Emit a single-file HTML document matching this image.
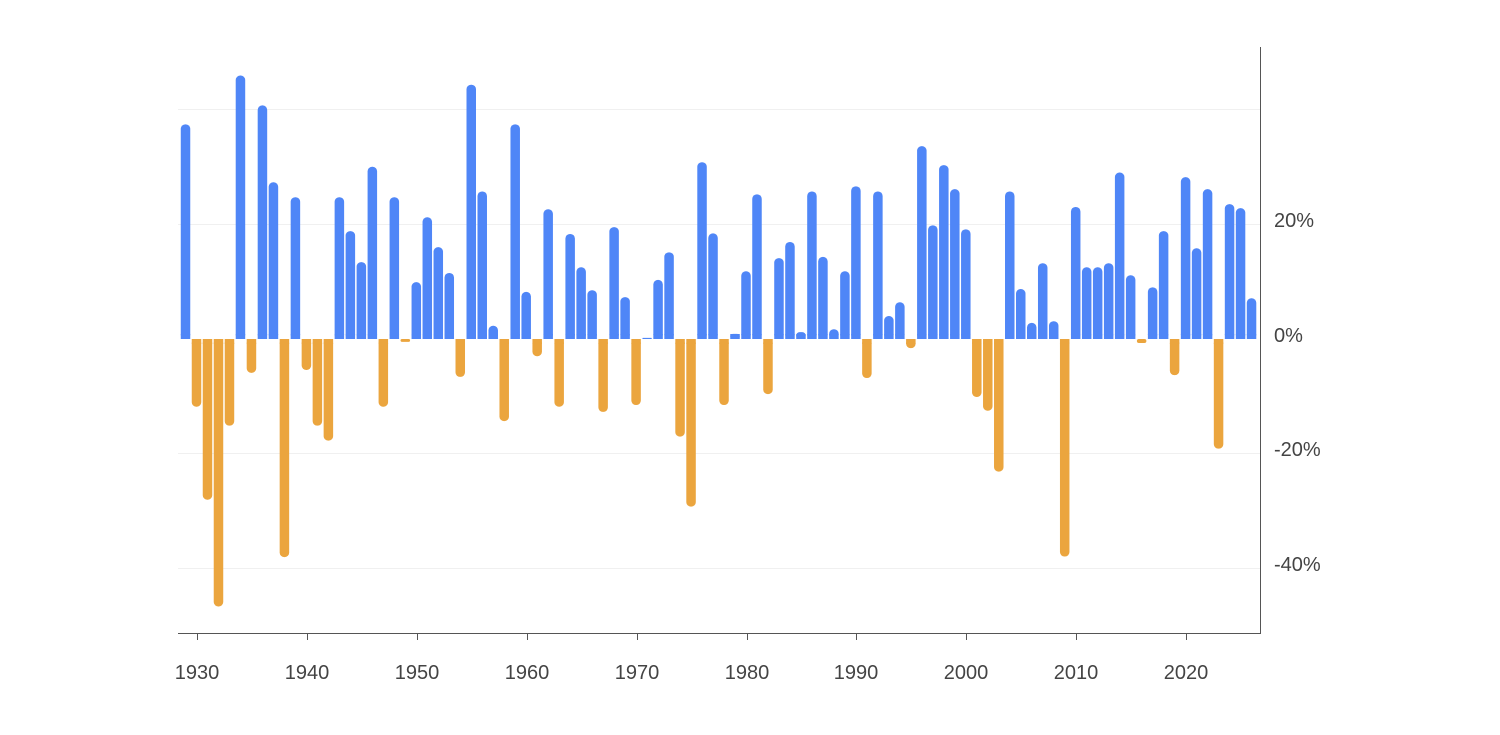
<!DOCTYPE html>
<html><head><meta charset="utf-8">
<style>
html,body{margin:0;padding:0;background:#fff;}
svg{display:block;}
text{font-family:"Liberation Sans",sans-serif;font-size:20px;fill:#444;}
</style></head>
<body>
<svg id="c" width="1500" height="735" viewBox="0 0 1500 735" xmlns="http://www.w3.org/2000/svg">
<g stroke="#f0f0f0" stroke-width="1">
<line x1="178" y1="109.5" x2="1260" y2="109.5"/>
<line x1="178" y1="224.5" x2="1260" y2="224.5"/>
<line x1="178" y1="453.5" x2="1260" y2="453.5"/>
<line x1="178" y1="568.5" x2="1260" y2="568.5"/>
</g>
<g id="bars"></g>
<g stroke="#555" stroke-width="1">
<line x1="178" y1="633.5" x2="1260" y2="633.5"/>
<line x1="1260.5" y1="47" x2="1260.5" y2="634"/>
<line x1="197.5" y1="633" x2="197.5" y2="640"/>
<line x1="307.5" y1="633" x2="307.5" y2="640"/>
<line x1="417.5" y1="633" x2="417.5" y2="640"/>
<line x1="527.5" y1="633" x2="527.5" y2="640"/>
<line x1="637.5" y1="633" x2="637.5" y2="640"/>
<line x1="747.5" y1="633" x2="747.5" y2="640"/>
<line x1="856.5" y1="633" x2="856.5" y2="640"/>
<line x1="966.5" y1="633" x2="966.5" y2="640"/>
<line x1="1076.5" y1="633" x2="1076.5" y2="640"/>
<line x1="1186.5" y1="633" x2="1186.5" y2="640"/>
</g>
<g text-anchor="middle">
<text x="197" y="679">1930</text><text x="307" y="679">1940</text><text x="417" y="679">1950</text>
<text x="527" y="679">1960</text><text x="637" y="679">1970</text><text x="747" y="679">1980</text>
<text x="856" y="679">1990</text><text x="966" y="679">2000</text><text x="1076" y="679">2010</text>
<text x="1186" y="679">2020</text>
</g>
<g text-anchor="start">
<text x="1274" y="227">20%</text>
<text x="1274" y="342">0%</text>
<text x="1274" y="456">-20%</text>
<text x="1274" y="571">-40%</text>
</g>
</svg>
<script>
var v=[37.4,-11.8,-28,-46.6,-15.1,45.9,-5.9,40.7,27.3,-38,24.7,-5.4,-15.1,-17.7,24.7,18.8,13.4,30,-11.8,24.7,-0.5,9.9,21.2,16,11.5,-6.6,44.3,25.7,2.3,-14.3,37.4,8.2,-3,22.6,-11.8,18.3,12.5,8.5,-12.7,19.5,7.3,-11.5,0.2,10.3,15.1,-17,-29.2,30.8,18.4,-11.5,0.9,11.8,25.2,-9.6,14.1,16.9,1.2,25.7,14.3,1.7,11.8,26.6,-6.8,25.7,4,6.4,-1.6,33.6,19.8,30.3,26.1,19.1,-10.1,-12.5,-23.1,25.7,8.7,2.8,13.2,3.1,-37.9,23,12.5,12.5,13.2,29,11.1,-0.7,9,18.8,-6.3,28.2,15.8,26.1,-19.1,23.5,22.8,7.1];
var g=document.getElementById('bars'),h='';
for(var i=0;i<v.length;i++){
 var cx=196.5+(i-1)*10.99,w=9.5,x=cx-w/2,pos=v[i]>=0,c=pos?'#4f86f7':'#eba53e';
 var len=Math.abs(v[i])*5.74;
 if(len<1)len=1;
 var y=pos?339-len:339;
 h+='<rect x="'+x+'" y="'+y+'" width="'+w+'" height="'+len+'" rx="'+Math.min(4.5,len/2)+'" fill="'+c+'"/>';
 if(len>5)h+='<rect x="'+x+'" y="'+(pos?334:339)+'" width="'+w+'" height="5" fill="'+c+'"/>';
}
g.innerHTML=h;
</script>
</body></html>
